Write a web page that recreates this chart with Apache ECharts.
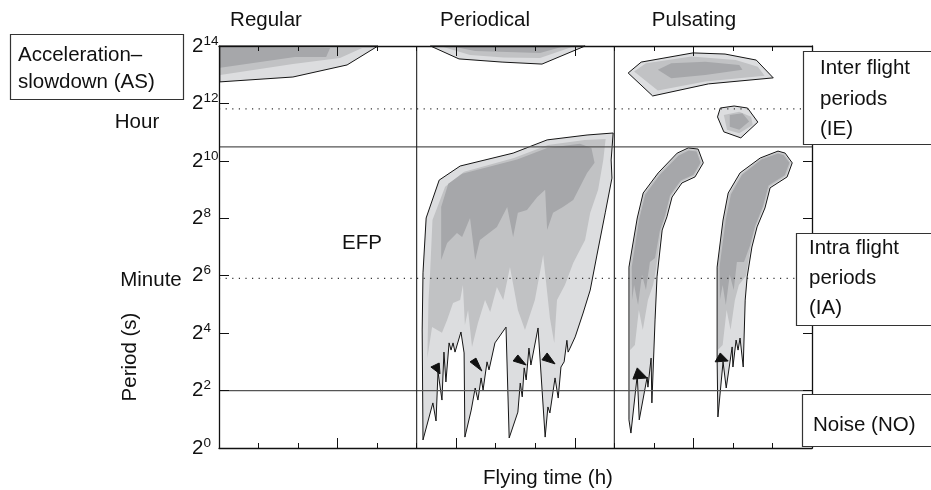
<!DOCTYPE html>
<html>
<head>
<meta charset="utf-8">
<script src="https://cdn.jsdelivr.net/npm/echarts@6/dist/echarts.min.js"></script>
<style>html,body{margin:0;padding:0;background:#fff}#c{width:931px;height:490px}</style>
</head>
<body>
<div id="c"></div>
<script>
// ---- Axis / tick data ----
const xRange = [0, 15];          // flying time, 3 panels x 5 units
const yRange = [0, 14];          // log2 period (s)
const yTickExponents = [0, 2, 4, 6, 8, 10, 12, 14];
const panelDividers = [5, 10];   // Regular | Periodical | Pulsating
const solidLevels = [10.49, 2];  // IE/IA boundary, IA/NO boundary
const dottedLevels = [11.81, 5.91]; // hour (3600 s), minute (60 s)
const columnTitles = ['Regular', 'Periodical', 'Pulsating'];

// ---- Contour polygons (x = flying time units, y = log2 period) ----
const regAsOuter = [[0.02,14],[4.02,14],[3.24,13.34],[1.87,12.92],[0.02,12.75]];
const regAsMid   = [[0.03,13.97],[3.62,13.93],[3.06,13.58],[1.87,13.37],[0.03,12.99]];
const regAsDark  = [[0.03,13.95],[2.81,13.93],[2.71,13.62],[1.92,13.62],[0.03,13.24]];

const perAsOuter = [[5.35,14],[6.07,13.55],[7.16,13.44],[8.17,13.37],[9.26,14]];
const perAsMid   = [[5.59,14],[6.35,13.69],[7.2,13.6],[8.12,13.58],[9.0,14]];
const perAsDark  = [[5.84,14],[6.48,13.83],[8.12,13.76],[8.75,14]];

const ieBigOuter = [[10.35,13.06],[10.68,13.44],[11.99,13.76],[12.80,13.72],[13.59,13.51],[14.02,12.89],[12.38,12.68],[10.97,12.26]];
const ieBigMid   = [[10.50,13.11],[10.80,13.40],[11.95,13.63],[13.07,13.51],[13.63,13.28],[13.80,12.96],[12.30,12.76],[11.10,12.45]];
const ieBigDark  = [[11.10,13.17],[11.44,13.40],[12.30,13.45],[13.16,13.34],[13.24,13.17],[12.30,12.99],[11.44,12.88]];

const ieSmallOuter = [[12.68,11.84],[13.03,11.91],[13.37,11.84],[13.63,11.35],[13.20,10.80],[12.77,11.01],[12.61,11.53]];
const ieSmallMid   = [[12.77,11.60],[13.16,11.71],[13.46,11.54],[13.50,11.25],[13.16,10.96],[12.85,11.08]];
const ieSmallDark  = [[12.92,11.60],[13.24,11.66],[13.41,11.37],[13.16,11.08],[12.92,11.19]];

const iaPerOuter = [[5.16,0.28],[5.14,4.11],[5.16,6.10],[5.24,8.01],[5.57,9.33],[6.10,9.82],[7.44,10.27],[8.30,10.73],[9.31,10.90],[9.97,10.97],[9.92,10.03],[9.94,9.40],[9.77,8.19],[9.56,6.72],[9.39,5.50],[9.21,4.70],[9.01,3.87],[8.88,3.48],
  [8.83,3.34],[8.80,3.75],[8.73,3.00],[8.65,2.82],[8.58,1.74],[8.50,2.44],[8.37,1.22],[8.32,1.43],[8.25,0.38],[8.07,4.18],[7.89,2.89],[7.84,3.48],[7.77,2.37],[7.72,2.79],[7.67,1.78],[7.62,2.26],[7.56,1.25],[7.34,0.35],[7.26,4.21],[6.98,3.66],[6.83,2.72],[6.78,3.00],[6.68,2.02],[6.63,2.44],[6.55,1.67],[6.48,2.09],[6.38,1.32],[6.22,0.38],[6.20,3.31],[6.12,4.04],[5.97,3.34],[5.92,3.66],[5.87,3.41],[5.82,3.66],[5.74,2.30],[5.69,3.34],[5.64,1.67],[5.54,2.65],[5.49,0.94],[5.41,1.57]];
const iaPerMid = [[5.27,3.13],[5.30,5.15],[5.34,6.10],[5.40,7.94],[5.72,9.10],[6.20,9.62],[7.46,10.10],[8.32,10.55],[9.25,10.73],[9.78,10.76],[9.72,10.03],[9.59,8.99],[9.39,8.19],[9.26,7.24],[8.96,6.44],[8.75,5.68],[8.55,5.15],[8.48,3.66],[8.37,4.53],[8.20,6.72],[7.99,5.15],[7.74,4.11],[7.56,4.81],[7.36,6.30],[7.19,5.15],[7.03,5.61],[6.86,4.74],[6.73,5.15],[6.55,4.35],[6.40,3.52],[6.30,4.81],[6.22,4.28],[6.17,5.68],[6.10,5.15],[5.92,5.05],[5.77,4.46],[5.64,4.01],[5.39,4.21]];
const iaPerDark = [[5.62,6.55],[5.62,8.39],[5.80,9.20],[6.15,9.55],[7.54,10.05],[8.30,10.45],[9.13,10.60],[9.42,10.45],[9.50,9.93],[9.31,9.58],[8.96,8.64],[8.70,8.39],[8.45,8.19],[8.30,7.59],[8.25,8.99],[8.05,8.74],[7.79,8.29],[7.56,8.19],[7.44,7.35],[7.29,8.39],[7.03,7.70],[6.60,7.24],[6.48,6.55],[6.35,8.01],[6.15,7.35],[6.02,7.49],[5.77,7.14]];

const iaP1Outer = [[10.42,0.52],[10.37,0.98],[10.37,6.30],[10.58,8.01],[10.73,8.88],[11.11,9.58],[11.59,10.27],[11.87,10.45],[12.12,10.41],[12.25,9.93],[12.04,9.44],[11.71,9.23],[11.46,8.74],[11.33,8.05],[11.21,7.59],[11.08,5.96],[11.03,4.46],[10.95,1.57],[10.93,3.13],[10.85,2.12],[10.83,2.47],[10.63,0.98],[10.58,2.54]];
const iaP1Mid = [[10.40,3.41],[10.39,6.30],[10.60,8.00],[10.75,8.85],[11.12,9.55],[11.60,10.24],[11.87,10.41],[12.10,10.38],[12.21,9.93],[12.02,9.48],[11.69,9.27],[11.43,8.77],[11.30,8.06],[11.18,7.58],[11.05,6.20],[10.98,5.68],[10.85,5.15],[10.72,4.11],[10.62,4.81],[10.52,3.59]];
const iaP1Dark = [[10.45,5.15],[10.44,6.30],[10.63,7.98],[10.78,8.82],[11.14,9.50],[11.62,10.18],[11.88,10.36],[12.08,10.33],[12.18,9.93],[12.00,9.52],[11.68,9.32],[11.41,8.80],[11.28,8.08],[11.15,7.56],[11.03,6.62],[10.90,6.48],[10.80,5.50],[10.70,6.03],[10.60,4.98],[10.50,5.68]];

const iaP2Outer = [[12.62,1.08],[12.60,3.07],[12.60,6.30],[12.75,7.94],[12.88,8.88],[13.18,9.58],[13.69,10.10],[14.14,10.34],[14.32,10.27],[14.50,9.93],[14.37,9.44],[13.94,9.06],[13.81,8.36],[13.61,7.70],[13.48,7.00],[13.36,5.96],[13.31,5.15],[13.26,2.82],[13.18,3.83],[13.13,3.41],[13.08,3.76],[13.00,2.82],[12.98,3.52],[12.83,2.09],[12.75,3.00]];
const iaP2Mid = [[12.62,3.41],[12.61,6.30],[12.78,7.98],[12.91,8.86],[13.21,9.55],[13.70,10.08],[14.14,10.30],[14.30,10.24],[14.46,9.93],[14.34,9.47],[13.92,9.10],[13.78,8.39],[13.58,7.71],[13.45,7.02],[13.33,6.00],[13.15,5.68],[13.05,5.15],[12.94,4.11],[12.84,4.81],[12.74,3.59]];
const iaP2Dark = [[12.67,5.15],[12.66,6.30],[12.82,7.96],[12.95,8.84],[13.23,9.52],[13.72,10.05],[14.14,10.26],[14.28,10.20],[14.43,9.93],[14.31,9.50],[13.90,9.14],[13.76,8.42],[13.56,7.72],[13.43,7.04],[13.28,6.48],[13.10,6.48],[13.02,5.50],[12.92,6.03],[12.82,4.98],[12.74,5.68]];

const arrowHeads = [
  [[5.36,2.82],[5.57,2.96],[5.59,2.58]],
  [[6.35,3.00],[6.50,3.13],[6.65,2.68]],
  [[7.44,3.03],[7.56,3.24],[7.77,2.89]],
  [[8.17,3.07],[8.30,3.31],[8.50,2.93]],
  [[10.58,2.79],[10.47,2.40],[10.83,2.44]],
  [[12.68,3.31],[12.55,3.00],[12.88,3.03]]
];

// ---- Styles ----
const FONT = '"Liberation Sans", Arial, Helvetica, sans-serif';
const C_LIGHT = '#dcdddf', C_MID = '#c1c2c4', C_DARK = '#a6a7aa', C_LINE = '#151515';

const blobs = [
  [regAsOuter, regAsMid, regAsDark],
  [perAsOuter, perAsMid, perAsDark],
  [ieBigOuter, ieBigMid, ieBigDark],
  [ieSmallOuter, ieSmallMid, ieSmallDark],
  [iaPerOuter, iaPerMid, iaPerDark],
  [iaP1Outer, iaP1Mid, iaP1Dark],
  [iaP2Outer, iaP2Mid, iaP2Dark]
];

function polySeries(points, fill, stroke, z) {
  return {
    type: 'custom', coordinateSystem: 'cartesian2d', data: points, silent: true,
    clip: false, z: z || 2, animation: false,
    renderItem: function (params, api) {
      if (params.context.rendered) return;
      params.context.rendered = true;
      const pts = points.map(p => api.coord(p));
      return { type: 'polygon', shape: { points: pts },
        style: { fill: fill || 'none', stroke: stroke || 'none', lineWidth: 1, lineJoin: 'miter' } };
    }
  };
}

const series = [];
blobs.forEach(b => {
  series.push(polySeries(b[0], C_LIGHT, null));
  series.push(polySeries(b[1], C_MID, null));
  series.push(polySeries(b[2], C_DARK, null));
  series.push(polySeries(b[0], null, C_LINE));
});
arrowHeads.forEach(a => series.push(polySeries(a, '#111', '#111')));

solidLevels.forEach(v => series.push({
  type: 'line', data: [[xRange[0], v], [xRange[1], v]], symbol: 'none', silent: true, z: 4, animation: false,
  lineStyle: { color: '#555', width: 1.3 }
}));
dottedLevels.forEach(v => series.push({
  type: 'line', data: [[xRange[0], v], [xRange[1], v]], symbol: 'none', silent: true, z: 4, animation: false,
  lineStyle: { color: '#333', width: 1.2, type: [1.2, 5.4] }
}));
panelDividers.forEach(v => series.push({
  type: 'line', data: [[v, yRange[0]], [v, yRange[1]]], symbol: 'none', silent: true, z: 4, animation: false,
  lineStyle: { color: '#222', width: 1.1 }
}));

const axisCommonX = {
  type: 'value', min: xRange[0], max: xRange[1], interval: 1, z: 10,
  axisLine: { show: true, onZero: false, lineStyle: { color: '#111', width: 1.3 } },
  axisTick: { show: true, inside: true, length: 5, lineStyle: { color: '#111', width: 1 } },
  axisLabel: { show: false }, splitLine: { show: false }
};
const axisMajorX = {
  type: 'value', min: xRange[0], max: xRange[1], interval: 3, z: 10, offset: 0,
  axisLine: { show: false, onZero: false },
  axisTick: { show: true, inside: true, length: 10, lineStyle: { color: '#111', width: 1 } },
  axisLabel: { show: false }, splitLine: { show: false }
};
const axisCommonY = {
  type: 'value', min: yRange[0], max: yRange[1], interval: 2, z: 10,
  axisLine: { show: true, onZero: false, lineStyle: { color: '#111', width: 1.3 } },
  axisTick: { show: true, inside: true, length: 10, lineStyle: { color: '#111', width: 1 } },
  splitLine: { show: false }
};

function txt(text, x, y, align, extra) {
  return Object.assign({
    type: 'text', x: x, y: y, z: 120, silent: true,
    style: { text: text, font: '20.5px ' + FONT, fill: '#111', align: align || 'left', verticalAlign: 'middle',
      textAlign: align || 'left', textVerticalAlign: 'middle' }
  }, extra || {});
}
function box(x, y, w, h) {
  return { type: 'rect', z: 110, silent: true, shape: { x: x, y: y, width: w, height: h },
    style: { fill: '#fff', stroke: '#333', lineWidth: 1.2 } };
}

const graphics = [
  box(10.5, 34.5, 173, 65),
  txt('Acceleration\u2013', 18, 55),
  txt('slowdown (AS)', 18, 82),
  txt('Hour', 137, 122, 'center'),
  txt('Minute', 151, 280, 'center'),
  txt('Period (s)', 130, 357, 'center', { rotation: Math.PI / 2 }),
  txt('EFP', 362, 243, 'center'),
  txt(columnTitles[0], 266, 20, 'center'),
  txt(columnTitles[1], 485, 20, 'center'),
  txt(columnTitles[2], 694, 20, 'center'),
  txt('Flying time (h)', 548, 478, 'center'),
  box(803.5, 51.5, 150, 93),
  txt('Inter flight', 820, 68),
  txt('periods', 820, 99),
  txt('(IE)', 820, 129),
  box(796.5, 233.5, 160, 92),
  txt('Intra flight', 809, 248),
  txt('periods', 809, 278),
  txt('(IA)', 809, 308),
  box(802.5, 394.5, 150, 52),
  txt('Noise (NO)', 813, 425)
];

const chart = echarts.init(document.getElementById('c'), null, { renderer: 'canvas' });
chart.setOption({
  backgroundColor: '#fff',
  animation: false,
  grid: { left: 219, right: 119, top: 46, bottom: 42, containLabel: false },
  xAxis: [
    Object.assign({}, axisCommonX, { position: 'bottom' }),
    Object.assign({}, axisCommonX, { position: 'top' }),
    Object.assign({}, axisMajorX, { position: 'bottom' }),
    Object.assign({}, axisMajorX, { position: 'top' })
  ],
  yAxis: [
    Object.assign({}, axisCommonY, {
      position: 'left',
      axisLabel: {
        show: true, align: 'left', margin: 27,
        formatter: function (v) { return yTickExponents.indexOf(v) >= 0 ? '{b|2}{s|' + v + '}' : ''; },
        rich: {
          b: { fontSize: 20.5, fontFamily: FONT, color: '#111', lineHeight: 24 },
          s: { fontSize: 13.5, fontFamily: FONT, color: '#111', lineHeight: 14, verticalAlign: 'top' }
        }
      }
    }),
    Object.assign({}, axisCommonY, { position: 'right', axisLabel: { show: false },
      axisTick: { show: true, inside: true, length: 9, lineStyle: { color: '#111', width: 1 } } })
  ],
  series: series,
  graphic: graphics
});
</script>
</body>
</html>
